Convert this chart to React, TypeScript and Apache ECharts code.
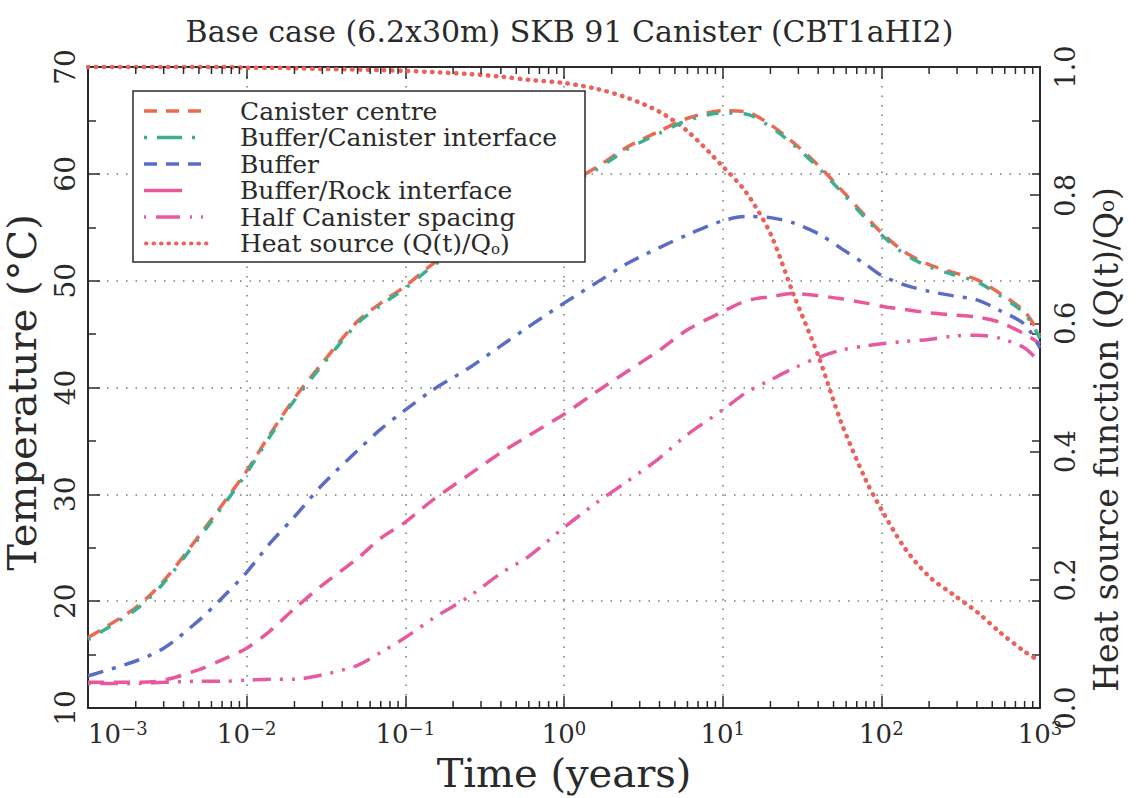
import React, { useEffect, useRef } from "react";
import * as echarts from "echarts";

// ---- data (time in years, temperature in °C, heat source fraction) ----
const times = [0.001, 0.002, 0.003, 0.005, 0.007, 0.01, 0.014, 0.02, 0.03, 0.05, 0.07, 0.1, 0.15, 0.25, 0.4, 0.6, 1, 1.6, 2.5, 4, 6, 10, 14, 20, 28, 40, 56, 80, 100, 140, 200, 280, 400, 560, 800, 1000];
const canisterCentre = [16.6, 19.4, 21.9, 26.1, 29.0, 32.2, 35.6, 39.0, 42.3, 46.2, 47.9, 49.5, 51.6, 53.8, 55.7, 57.3, 58.9, 60.6, 62.5, 64.0, 65.2, 65.9, 65.8, 64.6, 62.9, 60.8, 58.5, 56.0, 54.5, 52.7, 51.5, 50.8, 50.1, 48.8, 47.1, 44.9];
const bufferCanister = [16.4, 19.2, 21.7, 25.9, 28.8, 32.0, 35.4, 38.8, 42.1, 46.0, 47.7, 49.3, 51.4, 53.6, 55.5, 57.1, 58.7, 60.4, 62.3, 63.8, 65.0, 65.7, 65.6, 64.4, 62.7, 60.6, 58.3, 55.8, 54.3, 52.5, 51.3, 50.6, 49.9, 48.6, 46.9, 44.6];
const buffer = [13.0, 14.4, 15.6, 18.2, 20.3, 22.7, 25.4, 27.9, 30.9, 34.1, 36.1, 37.9, 39.8, 41.8, 43.9, 45.7, 47.9, 49.8, 51.6, 53.1, 54.3, 55.6, 56.0, 55.9, 55.4, 54.4, 53.0, 51.5, 50.5, 49.6, 49.0, 48.6, 48.2, 47.2, 45.9, 43.7];
const bufferRock = [12.4, 12.4, 12.6, 13.6, 14.5, 15.6, 17.2, 19.3, 21.5, 24.0, 25.9, 27.4, 29.5, 31.8, 33.9, 35.5, 37.5, 39.6, 41.5, 43.5, 45.4, 47.1, 48.1, 48.5, 48.8, 48.6, 48.3, 47.9, 47.6, 47.3, 47.0, 46.8, 46.6, 46.1, 45.0, 44.1];
const halfSpacing = [12.3, 12.3, 12.4, 12.5, 12.5, 12.6, 12.7, 12.7, 13.1, 14.0, 15.2, 16.6, 18.4, 20.4, 22.6, 24.2, 26.9, 29.2, 31.2, 33.4, 35.6, 37.9, 39.5, 40.7, 41.8, 42.8, 43.5, 43.9, 44.1, 44.3, 44.5, 44.8, 44.9, 44.6, 43.7, 42.3];
const heatSource = [1.0, 1.0, 1.0, 1.0, 1.0, 0.999, 0.999, 0.998, 0.997, 0.996, 0.995, 0.994, 0.992, 0.989, 0.985, 0.98, 0.975, 0.966, 0.952, 0.93, 0.9, 0.845, 0.805, 0.74, 0.645, 0.55, 0.445, 0.355, 0.31, 0.25, 0.205, 0.178, 0.15, 0.118, 0.088, 0.073];

const legendLabels = [
  "Canister centre",
  "Buffer/Canister interface",
  "Buffer",
  "Buffer/Rock interface",
  "Half Canister spacing",
  "Heat source (Q(t)/Q{s|o})",
];

// axis structure
const decades = [0.001, 0.01, 0.1, 1, 10, 100];
const minorMultipliers = [2, 3, 4, 5, 6, 7, 8, 9];

const FONT = "'DejaVu Serif', 'Liberation Serif', serif";
const INK = "#2a2a2a";
const C_CENTRE = "#ec6a52";
const C_BCI = "#3eae90";
const C_BUFFER = "#5a6cc6";
const C_ROCK = "#e8589a";
const C_HALF = "#e65aa2";
const C_HEAT = "#e9625c";

export default function App() {
  const ref = useRef<HTMLDivElement>(null);

  useEffect(() => {
    document.body.style.margin = "0";
    const chart = echarts.init(ref.current!, null, { renderer: "svg" });

    const pair = (arr: number[]) => times.map((t, i) => [t, arr[i]]);
    const minorTicks: number[][] = [];
    decades.forEach((d) => minorMultipliers.forEach((m) => minorTicks.push([d * m, 10])));

    const lineSeries = (name: string, arr: number[], color: string, dash: any, width = 3.5, yAxisIndex = 0, z = 2) => ({
      type: "line",
      name,
      data: pair(arr),
      yAxisIndex,
      showSymbol: false,
      smooth: 0.3,
      z,
      lineStyle: { color, width, type: dash, cap: "butt" },
    });

    const legendRowsY = [111, 137.5, 164, 190.5, 217, 243.5];
    const lx1 = 144;
    const legendColors = [C_CENTRE, C_BCI, C_BUFFER, C_ROCK, C_HALF, C_HEAT];
    const legendGraphics: any[] = [
      {
        type: "rect",
        shape: { x: 133, y: 91, width: 452, height: 171 },
        style: { fill: "#fff", stroke: INK, lineWidth: 1.5 },
        z: 100,
      },
      { type: "line", shape: { x1: lx1, y1: legendRowsY[0], x2: 210, y2: legendRowsY[0] }, style: { stroke: legendColors[0], lineWidth: 3.5, lineDash: [13, 9] }, z: 101 },
      { type: "line", shape: { x1: lx1, y1: legendRowsY[1], x2: 200, y2: legendRowsY[1] }, style: { stroke: legendColors[1], lineWidth: 3.5, lineDash: [3, 10, 25, 10, 3, 40] }, z: 101 },
      { type: "line", shape: { x1: lx1, y1: legendRowsY[2], x2: 210, y2: legendRowsY[2] }, style: { stroke: legendColors[2], lineWidth: 3.5, lineDash: [13, 9] }, z: 101 },
      { type: "line", shape: { x1: lx1, y1: legendRowsY[3], x2: 182, y2: legendRowsY[3] }, style: { stroke: legendColors[3], lineWidth: 3.5 }, z: 101 },
      { type: "line", shape: { x1: lx1, y1: legendRowsY[4], x2: 208, y2: legendRowsY[4] }, style: { stroke: legendColors[4], lineWidth: 3.5, lineDash: [2, 10, 24, 10, 2, 9, 2, 30] }, z: 101 },
      { type: "line", shape: { x1: lx1 + 2, y1: legendRowsY[5], x2: 210, y2: legendRowsY[5] }, style: { stroke: legendColors[5], lineWidth: 4, lineDash: [0.5, 7], lineCap: "round" }, z: 101 },
    ];
    legendLabels.forEach((label, i) => {
      legendGraphics.push({
        type: "text",
        x: 240,
        y: legendRowsY[i],
        z: 102,
        style: {
          text: label,
          fill: INK,
          fontFamily: FONT,
          fontSize: 25,
          lineHeight: 25,
          verticalAlign: "middle",
          align: "left",
          rich: { s: { fontSize: 15, fontFamily: FONT, fill: INK, verticalAlign: "bottom", lineHeight: 12 } },
        },
      });
    });

    const supLabel = (v: number) => {
      const e = Math.round(Math.log10(v));
      const es = e < 0 ? "\u2212" + -e : String(e);
      return `{b|10}{s|${es}}`;
    };

    const tickStyle = { color: INK, width: 1.5 };

    const option: any = {
      animation: false,
      backgroundColor: "#fff",
      textStyle: { fontFamily: FONT },
      title: {
        text: "Base case (6.2x30m) SKB 91 Canister (CBT1aHI2)",
        left: "center",
        top: 11,
        textStyle: { fontFamily: FONT, fontSize: 30, fontWeight: "normal", color: INK },
      },
      grid: { left: 88, right: 99, top: 67, bottom: 90, outerBoundsMode: "none", containLabel: false },
      xAxis: [
        {
          type: "log",
          logBase: 10,
          min: 0.001,
          max: 1000,
          splitNumber: 6,
          position: "bottom",
          name: "Time (years)",
          nameLocation: "middle",
          nameGap: 42,
          nameTextStyle: { fontFamily: FONT, fontSize: 40, lineHeight: 42, color: INK },
          axisLine: { show: true, lineStyle: { color: INK, width: 2 } },
          axisTick: { show: true, inside: true, length: 12, lineStyle: tickStyle },
          minorTick: { show: false },
          splitLine: { show: true, lineStyle: { color: "#777", width: 1.5, type: [1.5, 8] } },
          axisLabel: {
            margin: 11,
            color: INK,
            fontFamily: FONT,
            formatter: supLabel,
            alignMinLabel: "left",
            rich: {
              b: { fontFamily: FONT, fontSize: 26, color: INK, lineHeight: 30 },
              s: { fontFamily: FONT, fontSize: 18, color: INK, lineHeight: 18, verticalAlign: "top" },
            },
          },
        },
        {
          type: "log",
          logBase: 10,
          min: 0.001,
          max: 1000,
          splitNumber: 6,
          position: "top",
          axisLine: { show: true, lineStyle: { color: INK, width: 2 } },
          axisTick: { show: true, inside: true, length: 12, lineStyle: tickStyle },
          axisLabel: { show: false },
          splitLine: { show: false },
        },
      ],
      yAxis: [
        {
          type: "value",
          min: 10,
          max: 70,
          interval: 10,
          position: "left",
          name: "Temperature (\u00b0C)",
          nameLocation: "middle",
          nameRotate: 90,
          nameGap: 38,
          nameTextStyle: { fontFamily: FONT, fontSize: 40, lineHeight: 42, color: INK, padding: [0, 10, 0, 0] },
          axisLine: { show: true, lineStyle: { color: INK, width: 2 } },
          axisTick: { show: true, inside: true, length: 12, lineStyle: tickStyle },
          minorTick: { show: true, splitNumber: 2, length: 8, lineStyle: tickStyle },
          splitLine: { show: true, lineStyle: { color: "#777", width: 1.5, type: [1.5, 8] } },
          axisLabel: { rotate: 90, margin: 9, fontFamily: FONT, fontSize: 28, color: INK },
        },
        {
          type: "value",
          min: 0,
          max: 1,
          interval: 0.2,
          position: "right",
          name: "Heat source function (Q(t)/Q{s|o})",
          nameLocation: "middle",
          nameRotate: 90,
          nameGap: 50,
          nameTextStyle: {
            fontFamily: FONT,
            fontSize: 33,
            color: INK,
            padding: [0, 104, 0, 0],
            rich: { s: { fontFamily: FONT, fontSize: 20, color: INK } },
          },
          axisLine: { show: true, lineStyle: { color: INK, width: 2 } },
          axisTick: { show: true, inside: true, length: 10, lineStyle: tickStyle },
          minorTick: { show: false },
          splitLine: { show: false },
          axisLabel: { rotate: 90, margin: 12, fontFamily: FONT, fontSize: 27, color: INK, formatter: (v: number) => v.toFixed(1) },
        },
        {
          // mirrored temperature ticks on the right frame
          type: "value",
          min: 10,
          max: 70,
          interval: 10,
          position: "right",
          axisLine: { show: false },
          axisTick: { show: true, inside: true, length: 8, lineStyle: tickStyle },
          minorTick: { show: true, splitNumber: 2, length: 8, lineStyle: tickStyle },
          axisLabel: { show: false },
          splitLine: { show: false },
        },
      ],
      graphic: legendGraphics,
      series: [
        {
          type: "custom",
          name: "minorTicks",
          xAxisIndex: 0,
          yAxisIndex: 0,
          silent: true,
          clip: false,
          z: 5,
          data: minorTicks,
          encode: { x: 0, y: 1 },
          renderItem: (params: any, api: any) => {
            const t = api.value(0);
            const pb = api.coord([t, 10]);
            const pt = api.coord([t, 70]);
            const st = { stroke: INK, lineWidth: 1.5, fill: "none" };
            return {
              type: "group",
              children: [
                { type: "line", shape: { x1: pb[0], y1: pb[1], x2: pb[0], y2: pb[1] - 7 }, style: st },
                { type: "line", shape: { x1: pt[0], y1: pt[1], x2: pt[0], y2: pt[1] + 7 }, style: st },
              ],
            };
          },
        },
        lineSeries("Heat source (Q(t)/Qo)", heatSource, C_HEAT, [0.5, 7.5], 4.5, 1, 2),
        lineSeries("Half Canister spacing", halfSpacing, C_HALF, [3, 9, 18, 9, 3, 9], 3.5),
        lineSeries("Buffer/Rock interface", bufferRock, C_ROCK, [16, 10], 3.5),
        lineSeries("Buffer", buffer, C_BUFFER, [16, 9, 4, 9], 3.5),
        lineSeries("Canister centre", canisterCentre, C_CENTRE, [14, 9], 3.5),
        lineSeries("Buffer/Canister interface", bufferCanister, C_BCI, [3, 11, 12, 11], 3.5, 0, 3),
      ],
    };
    option.series[1].lineStyle.cap = "round";

    chart.setOption(option);
    return () => chart.dispose();
  }, []);

  return <div ref={ref} style={{ position: "fixed", left: 0, top: 0, width: 1139, height: 798 }} />;
}
